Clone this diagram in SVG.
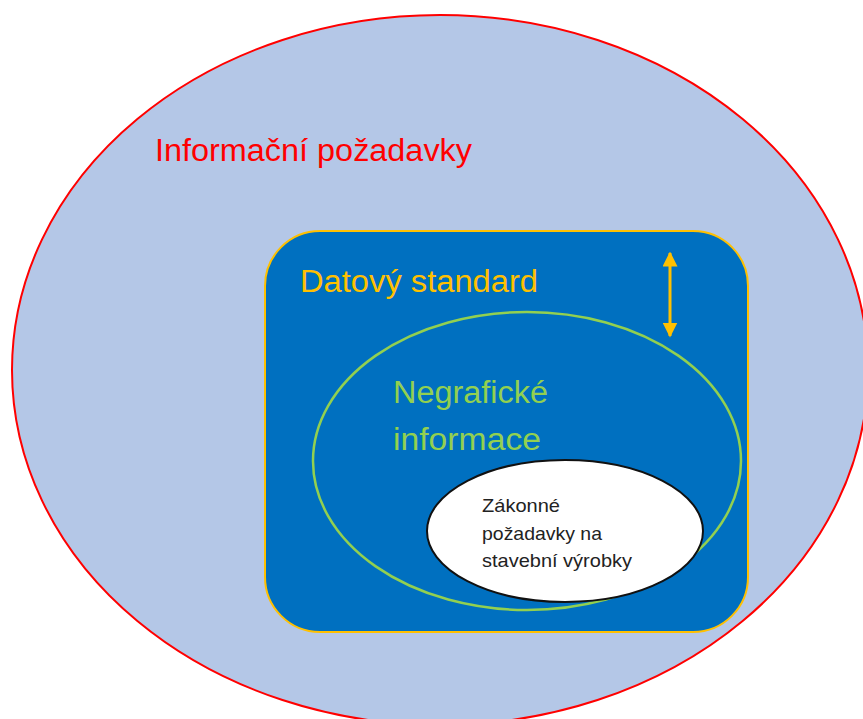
<svg xmlns="http://www.w3.org/2000/svg" width="863" height="719" viewBox="0 0 863 719">
<style>
text{font-family:"Liberation Sans","Open Sans",Arial,sans-serif}
.big{font-size:31px}
.small{font-size:19px;fill:#222}
</style>
<defs>
<marker id="ah" viewBox="0 0 10 10" refX="9" refY="5" markerWidth="5" markerHeight="5" markerUnits="strokeWidth" orient="auto-start-reverse">
<path d="M0,0 L10,5 L0,10 z" fill="#FFC000"/>
</marker>
</defs>
<rect width="863" height="719" fill="#fff"/>
<g id="informacni">
<ellipse cx="440" cy="370" rx="428" ry="355" fill="#B4C7E7" stroke="#FF0000" stroke-width="2"/>
<text class="big" x="155" y="161" fill="#FF0000" textLength="317" lengthAdjust="spacingAndGlyphs">Informační požadavky</text>
</g>
<g id="datovy">
<rect x="265" y="231" width="483" height="401" rx="55" ry="55" fill="#0070C0" stroke="#FFC000" stroke-width="2"/>
<text class="big" x="300" y="292" fill="#FFC000" textLength="238" lengthAdjust="spacingAndGlyphs">Datový standard</text>
</g>
<g id="negraficke">
<ellipse cx="527" cy="461" rx="214" ry="149" fill="none" stroke="#92D050" stroke-width="2.5"/>
<text class="big" x="393" y="403" fill="#92D050" textLength="155" lengthAdjust="spacingAndGlyphs">Negrafické</text>
<text class="big" x="393" y="450" fill="#92D050" textLength="148" lengthAdjust="spacingAndGlyphs">informace</text>
</g>
<g id="zakonne">
<ellipse cx="565" cy="531" rx="138" ry="71" fill="#fff" stroke="#111" stroke-width="2"/>
<text class="small" x="482" y="512" textLength="78" lengthAdjust="spacingAndGlyphs">Zákonné</text>
<text class="small" x="482" y="540" textLength="120" lengthAdjust="spacingAndGlyphs">požadavky na</text>
<text class="small" x="482" y="567" textLength="150" lengthAdjust="spacingAndGlyphs">stavební výrobky</text>
</g>
<g id="connectors">
<line x1="670" y1="253" x2="670" y2="336" stroke="#FFC000" stroke-width="3" marker-start="url(#ah)" marker-end="url(#ah)"/>
</g>
</svg>
